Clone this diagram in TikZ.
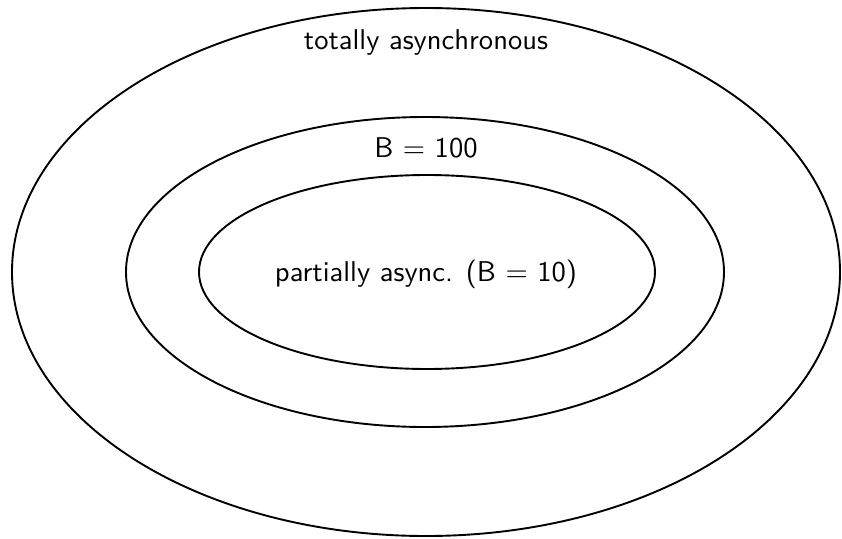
\documentclass[tikz,border=0pt]{standalone}
\usepackage{tikz}
\newcommand{\bigtxt}[1]{\scalebox{2.86}{\sffamily #1}}
\begin{document}
\begin{tikzpicture}[x=1pt,y=-1pt,
  ring/.style={draw=black,line width=1.9pt},
  lbl/.style={anchor=base,inner sep=0pt}]
\useasboundingbox (0,0) rectangle (842,538);
\draw[ring] (426,272) ellipse [x radius=414, y radius=264];
\draw[ring] (425,272) ellipse [x radius=299, y radius=155];
\draw[ring] (427,272) ellipse [x radius=228, y radius=97];
\node[lbl] (t) at (426,49) {\bigtxt{totally asynchronous}};
\node[lbl] (m) at (426,157) {\bigtxt{B $=$ 100}};
\node[lbl] (i) at (426,281) {\bigtxt{partially async. (B $=$ 10)}};
\end{tikzpicture}
\end{document}
